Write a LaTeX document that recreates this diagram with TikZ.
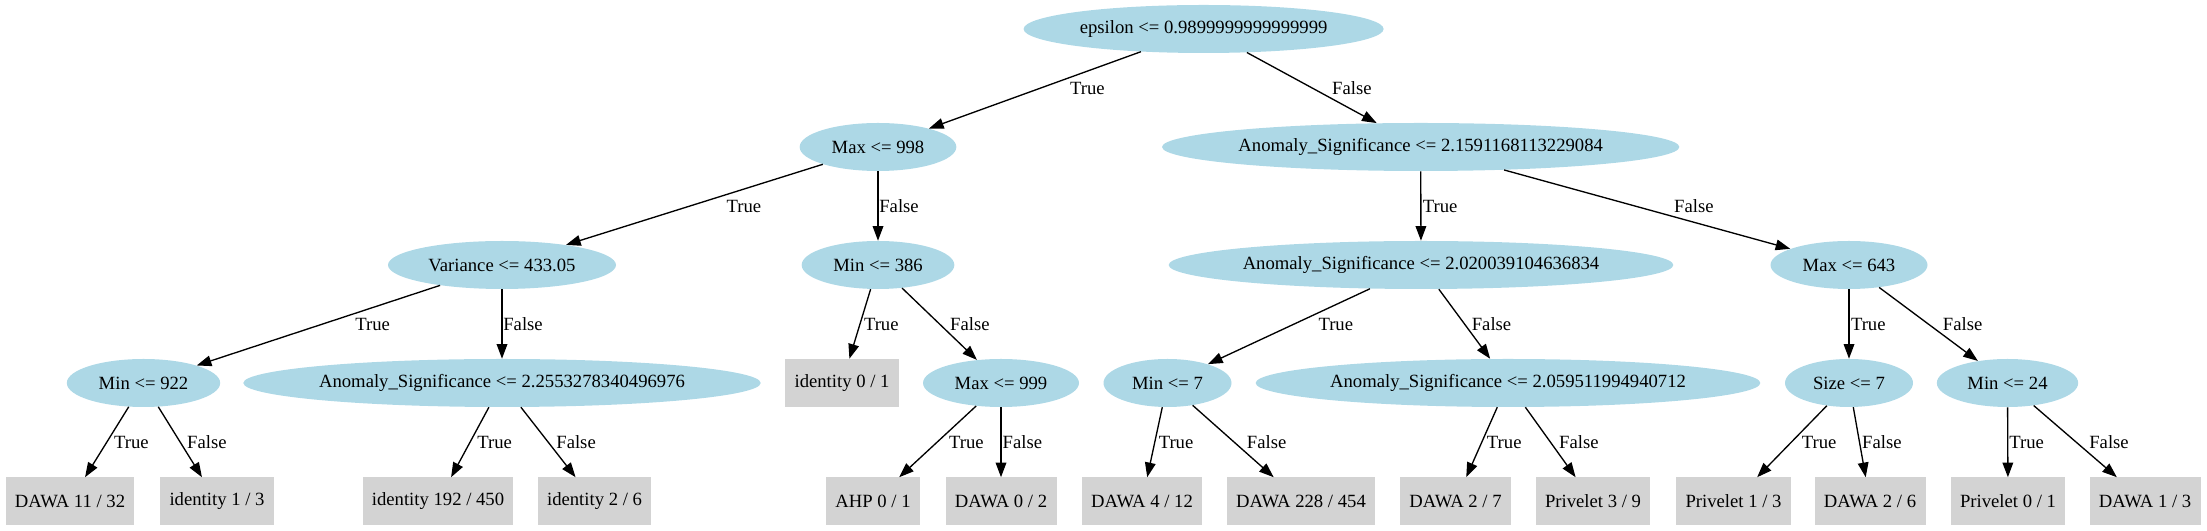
\documentclass[tikz,border=0pt]{standalone}
\usepackage{fontspec}
\setmainfont{Liberation Serif}
\usetikzlibrary{arrows.meta,calc,shapes.geometric}
\definecolor{splitblue}{HTML}{ADD8E6}
\definecolor{leafgray}{HTML}{D3D3D3}
\newcommand\branch[4]{\draw[edge] (#1) -- (#2) node[lbl,xshift=#4] at ($(#1)!.5!(#2)$) {#3};}

\begin{document}
\begin{tikzpicture}[x=0.75pt,y=0.75pt,
    every node/.style={font=\fontsize{14}{16.8}\selectfont},
    test/.style={ellipse,fill=splitblue,inner xsep=0pt,inner ysep=4pt,minimum height=36pt,minimum width=#1},
    leaf/.style={rectangle,fill=leafgray,inner xsep=7pt,minimum height=36pt,minimum width=54pt},
    edge/.style={line width=1pt,-{Triangle[length=11pt,width=8pt]}},
    lbl/.style={anchor=west,inner sep=0pt}]
    \useasboundingbox (0,0) rectangle (2207,531);

    \node[test=270pt] (eps) at (1203.6,502) {epsilon <= 0.9899999999999999};
    \node[test=117.5pt] (max998) at (878,384) {Max <= 998};
    \node[test=388pt] (anom2159) at (1420.7,384) {Anomaly\_Significance <= 2.1591168113229084};
    \node[test=171pt] (var433) at (502,266) {Variance <= 433.05};
    \node[test=114.5pt] (min386) at (878,266) {Min <= 386};
    \node[test=378.5pt] (anom2020) at (1421,266) {Anomaly\_Significance <= 2.020039104636834};
    \node[test=117.75pt] (max643) at (1849,266) {Max <= 643};
    \node[test=115pt] (min922) at (143.5,148) {Min <= 922};
    \node[test=387pt] (anom2255) at (502,148) {Anomaly\_Significance <= 2.2553278340496976};
    \node[leaf] (id01) at (842,148) {identity 0 / 1};
    \node[test=117pt] (max999) at (1001,148) {Max <= 999};
    \node[test=96pt] (min7) at (1167.5,148) {Min <= 7};
    \node[test=378.5pt] (anom2059) at (1508,148) {Anomaly\_Significance <= 2.059511994940712};
    \node[test=96pt] (size7) at (1849,148) {Size <= 7};
    \node[test=106pt] (min24) at (2007.5,148) {Min <= 24};

    \node[leaf] (dawa1132) at (70,29.5) {DAWA 11 / 32};
    \node[leaf] (id13) at (217,29.5) {identity 1 / 3};
    \node[leaf] (id192) at (438,29.5) {identity 192 / 450};
    \node[leaf] (id26) at (594.5,29.5) {identity 2 / 6};
    \node[leaf] (ahp01) at (873,29.5) {AHP 0 / 1};
    \node[leaf] (dawa02) at (1001,29.5) {DAWA 0 / 2};
    \node[leaf] (dawa412) at (1142,29.5) {DAWA 4 / 12};
    \node[leaf] (dawa228) at (1301,29.5) {DAWA 228 / 454};
    \node[leaf] (dawa27) at (1455.5,29.5) {DAWA 2 / 7};
    \node[leaf] (priv39) at (1593,29.5) {Privelet 3 / 9};
    \node[leaf] (priv13) at (1733.5,29.5) {Privelet 1 / 3};
    \node[leaf] (dawa26) at (1870,29.5) {DAWA 2 / 6};
    \node[leaf] (priv01) at (2008,29.5) {Privelet 0 / 1};
    \node[leaf] (dawa13) at (2145,29.5) {DAWA 1 / 3};

    \branch{eps}{max998}{True}{21.5pt}
    \branch{eps}{anom2159}{False}{14.5pt}
    \branch{max998}{var433}{True}{27pt}
    \branch{max998}{min386}{False}{0.5pt}
    \branch{anom2159}{anom2020}{True}{1pt}
    \branch{anom2159}{max643}{False}{29pt}
    \branch{var433}{min922}{True}{24pt}
    \branch{var433}{anom2255}{False}{0.5pt}
    \branch{min386}{id01}{True}{2.5pt}
    \branch{min386}{max999}{False}{7.5pt}
    \branch{anom2020}{min7}{True}{17.7pt}
    \branch{anom2020}{anom2059}{False}{5pt}
    \branch{max643}{size7}{True}{1pt}
    \branch{max643}{min24}{False}{10.5pt}
    \branch{min922}{dawa1132}{True}{5pt}
    \branch{min922}{id13}{False}{4.7pt}
    \branch{anom2255}{id192}{True}{5pt}
    \branch{anom2255}{id26}{False}{5.6pt}
    \branch{max999}{ahp01}{True}{8.6pt}
    \branch{max999}{dawa02}{False}{0.75pt}
    \branch{min7}{dawa412}{True}{2.5pt}
    \branch{min7}{dawa228}{False}{9pt}
    \branch{anom2059}{dawa27}{True}{3.4pt}
    \branch{anom2059}{priv39}{False}{6pt}
    \branch{size7}{priv13}{True}{7.5pt}
    \branch{size7}{dawa26}{False}{1.5pt}
    \branch{min24}{priv01}{True}{0.75pt}
    \branch{min24}{dawa13}{False}{9.3pt}
\end{tikzpicture}
\end{document}
